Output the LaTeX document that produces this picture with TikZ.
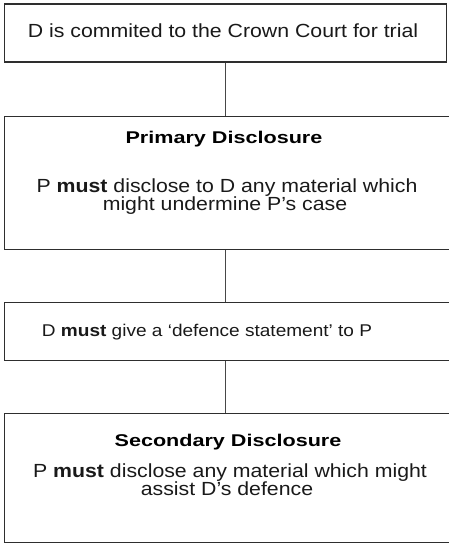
\documentclass[tikz,border=0pt]{standalone}
\usepackage{fontspec}
\setmainfont{Liberation Sans}[FakeStretch=1.12]
\newfontfamily\headfont{Liberation Sans}[FakeStretch=1.27]
\begin{document}
\begin{tikzpicture}[x=1pt,y=-1pt,
  box/.style={draw=black!82, line width=1.4pt, inner sep=0pt},
  link/.style={draw=black!72, line width=1.5pt},
  body/.style={font=\fontsize{19}{19}\selectfont, anchor=base, inner sep=0pt, text=black!90},
  head/.style={font=\headfont\fontsize{17}{17}\selectfont\bfseries, anchor=base, inner sep=0pt, text=black}]
\useasboundingbox (0,0) rectangle (448,544);

% stage boxes
\node[box, minimum width=442pt, minimum height=58pt] (b1) at (225.5,33) {};
\node[box, minimum width=450pt, minimum height=133pt, anchor=north west] (b2) at (4,116) {};
\node[box, minimum width=450pt, minimum height=58pt, anchor=north west] (b3) at (4,302) {};
\node[box, minimum width=450pt, minimum height=129pt, anchor=north west] (b4) at (4,413) {};

% connectors
\draw[link] (b1.south) -- (b1.south |- b2.north);
\draw[link] (b1.south |- b2.south) -- (b1.south |- b3.north);
\draw[link] (b1.south |- b3.south) -- (b1.south |- b4.north);

% texts
\node[body] (t1) at (223,37) {D is commited to the Crown Court for trial};

\node[head] (t2a) at (224,143) {Primary Disclosure};
\node[body] (t2b) at (227,192) {P \textbf{must} disclose to D any material which};
\node[body] (t2c) at (225,210) {might undermine P’s case};

\node[body, font=\fontsize{17}{17}\selectfont] (t3) at (207,336) {D \textbf{must} give a ‘defence statement’ to P};

\node[head] (t4a) at (228,446) {Secondary Disclosure};
\node[body] (t4b) at (230,477) {P \textbf{must} disclose any material which might};
\node[body] (t4c) at (227,495) {assist D’s defence};
\end{tikzpicture}
\end{document}
